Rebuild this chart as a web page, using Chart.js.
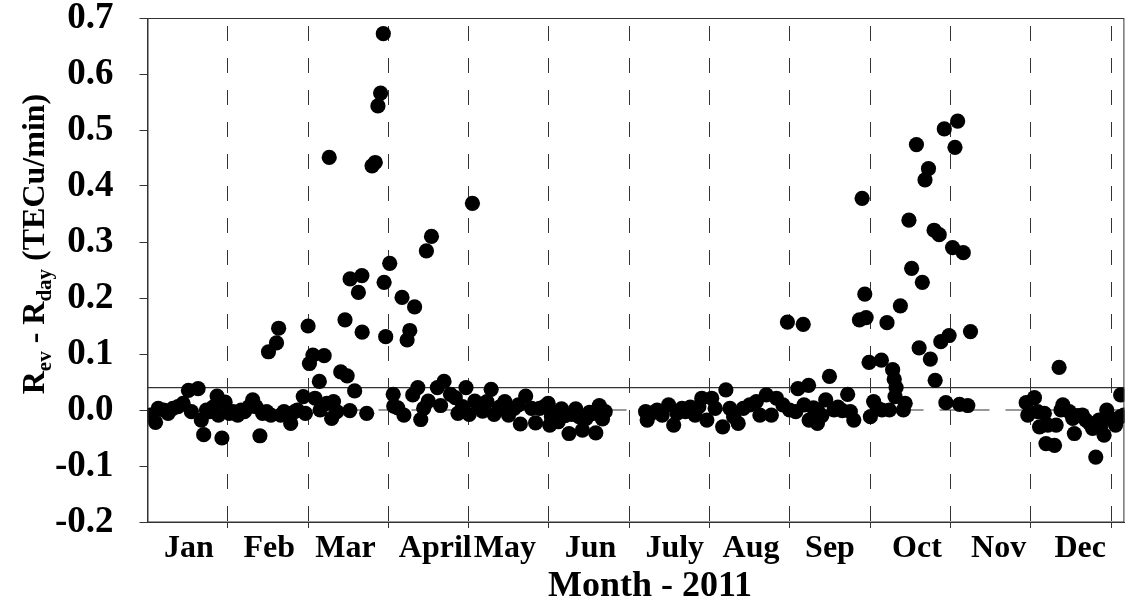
<!DOCTYPE html>
<html>
<head>
<meta charset="utf-8">
<script src="https://cdn.jsdelivr.net/npm/chart.js@4.4.1/dist/chart.umd.min.js"></script>
<style>
  html, body { margin: 0; padding: 0; background: #fff; }
  #chart { display: block; }
</style>
</head>
<body>
<canvas id="chart" width="1132" height="604"></canvas>
<script>
// day of year 2011 and the rate difference (TECu/min)
const days = [
  1, 3, 4, 6, 7.7, 9.5, 11.4, 13.3, 15.3, 16.4, 18.9, 20.1, 21, 22, 23.2, 24.5, 26, 26.5, 27.8, 29,
  30.6, 32, 33.7, 35, 36.2, 38, 39.3, 40.5, 42, 43, 44.5, 45.2, 46.1, 48.2, 49, 49.8, 51, 52.2, 53.5, 55,
  56, 58.2, 59,
  60, 60.5, 61.8, 62.6, 64.2, 64.5, 66, 67, 67.9, 68.8, 69.5, 70.7, 72.2, 73.8, 74.6, 75.6, 75.7, 77.4,
  78.8, 80.1, 80.2, 81.9, 83.9, 85.1, 86.1, 87.1, 88.1, 88.4, 89, 90.5,
  91.8, 92, 93.5, 95.1, 95.8, 97, 98, 99.1, 99.8, 101, 102.1, 103.2, 104.2, 104.9, 106.1, 108.3, 109.5, 110.8,
  113.2, 115, 116, 117.7, 119, 120.2,
  121.4, 122.3, 124, 125.2, 126.8, 128.4, 129.5, 131.5, 133.5, 134.9, 137, 138.6, 139.3, 141.3, 143.5, 145,
  146.5, 148.5, 149.7, 150.3, 150.9, 152, 153.4, 154.7, 156, 157.5, 158.5, 160, 161.2, 162.5, 163.9, 165.2, 166.6, 167.5,
  168.8, 170, 171,
  186.1, 186.7, 188.5, 190.4, 192.3, 194.7, 196.6, 197.8, 199.7, 201, 202.8, 204.6, 206, 207.1, 209, 210.8,
  212.1, 214.9, 216.1, 217.6, 219, 220.7, 222.6, 225, 227.5, 228.8, 231.2, 233.1, 235, 237.4, 239.1,
  239.9, 242.2, 243,
  245, 245.3, 247, 247.2, 248.8, 250.3, 250.3, 252, 253.4, 254.8, 256.5, 258, 259.6, 261.6, 262.6, 263.9, 266,
  267, 268, 268.5, 269.6, 270.1,
  271.3, 272.6, 274.2, 274.4, 276.3, 277.2, 278.4, 279, 279.3, 279.7, 281.3, 282.4, 283.1, 284.5, 285.5, 287.3,
  288.3, 289.5, 290.5, 291.8, 292.5, 293.9, 294.3, 295.8, 296.4, 297.7, 298.3, 299.5, 300.8, 301.7,
  302.7, 303.4, 304.8, 306.5, 307.5,
  328.3, 328.9, 331.4, 332.6, 333.3, 335.1, 335.7, 336.4, 338.9, 339.5, 340.6, 341.3, 342, 344.4, 345.7,
  346.3, 347.5, 349.3, 350.6, 352, 353.1, 354.3, 355.5, 356.1, 357.4, 358.4, 359.9, 361.7, 363.6, 363.6, 364.8
];
const rates = [
  -0.009, -0.022, 0.003, 0.000, -0.006, 0.003, 0.006, 0.012, 0.035, -0.003, 0.038, -0.018, -0.044, 0.000, -0.003, 0.005, 0.025, -0.009, -0.050, 0.014,
  -0.006, -0.003, -0.009, 0.000, -0.003, 0.006, 0.018, 0.006, -0.046, -0.006, -0.003, 0.104, -0.009, 0.120, 0.146, -0.009, -0.003, -0.006, -0.024, -0.003,
  0.000, 0.024, -0.006,
  0.150, 0.083, 0.098, 0.021, 0.051, 0.000, 0.097, 0.012, 0.451, -0.015, 0.015, -0.003, 0.068, 0.161, 0.061, -0.001, 0.234, 0.034,
  0.210, 0.240, 0.139, -0.006, 0.436, 0.442, 0.543, 0.566, 0.672, 0.228, 0.131, 0.262,
  0.028, 0.007, 0.004, 0.201, -0.009, 0.125, 0.142, 0.027, 0.184, 0.040, -0.017, 0.003, 0.284, 0.016, 0.310, 0.040, 0.008, 0.051,
  0.028, 0.022, -0.006, 0.006, 0.040, -0.008,
  0.369, 0.016, 0.004, -0.002, 0.015, 0.037, -0.008, 0.005, 0.015, -0.009, 0.003, 0.009, -0.025, 0.025, 0.003, -0.023,
  0.003, 0.007, 0.012, -0.027, -0.012, -0.005, -0.021, 0.002, -0.010, -0.042, -0.008, 0.002, -0.012, -0.036, -0.015, -0.004, -0.006, -0.041,
  0.008, -0.016, -0.003,
  -0.003, -0.018, -0.005, 0.000, -0.009, 0.009, -0.027, -0.006, 0.003, -0.003, 0.005, -0.009, 0.006, 0.021, -0.018, 0.021,
  0.003, -0.030, 0.036, 0.003, -0.012, -0.024, 0.003, 0.009, 0.015, -0.009, 0.027, -0.009, 0.021, 0.009, 0.157,
  0.000, -0.003, 0.038,
  0.153, 0.009, 0.044, -0.018, 0.004, -0.024, 0.000, -0.010, 0.018, 0.060, 0.000, 0.005, -0.001, 0.028, -0.003, -0.018, 0.161,
  0.378, 0.207, 0.165, 0.085, -0.012,
  0.015, 0.004, 0.089, 0.000, 0.156, 0.000, 0.072, 0.055, 0.024, 0.040, 0.186, 0.000, 0.012, 0.339, 0.253, 0.474,
  0.111, 0.228, 0.411, 0.431, 0.091, 0.321, 0.053, 0.313, 0.122, 0.502, 0.013, 0.133, 0.290, 0.469,
  0.516, 0.010, 0.281, 0.008, 0.140,
  0.013, -0.009, 0.022, -0.003, -0.030, -0.006, -0.060, -0.027, -0.063, -0.027, 0.076, 0.000, 0.009, -0.003, -0.015,
  -0.042, -0.010, -0.009, -0.018, -0.024, -0.033, -0.084, -0.018, -0.030, -0.045, 0.000, -0.015, -0.027, -0.012, 0.027, -0.009
];

const monthNames = ['Jan', 'Feb', 'Mar', 'April', 'May', 'Jun', 'July', 'Aug', 'Sep', 'Oct', 'Nov', 'Dec'];
const monthLabelDays = [15.5, 45.5, 74, 107.5, 133.5, 165.5, 197, 225.5, 255, 287.5, 318, 348.5];
const monthEdges = [30, 60, 90, 120, 150, 180, 210, 240, 270, 300, 330, 360];
const thresholdLevel = 0.04;

const serif = '"Liberation Serif", "Times New Roman", Times, serif';
const lineColor = '#333';

// plot frame, x axis title and y axis title with subscripts
const framePlugin = {
    id: 'frame',
    afterDraw(chart) {
        const { ctx, chartArea: a } = chart;
        ctx.save();
        ctx.strokeStyle = lineColor;
        ctx.lineWidth = 1;
        ctx.strokeRect(a.left + 0.5, a.top + 0.5, a.right - a.left - 1, a.bottom - a.top - 0.5);

        ctx.fillStyle = '#000';
        ctx.font = 'bold 36px ' + serif;
        ctx.textAlign = 'center';
        ctx.textBaseline = 'alphabetic';
        ctx.fillText('Month - 2011', 650, 596);

        const big = 'bold 32px ' + serif;
        const small = 'bold 21px ' + serif;
        const parts = [
            ['R', big, 0], ['ev', small, 7], [' - R', big, 0], ['day', small, 7], [' (TECu/min)', big, 0]
        ];
        ctx.textAlign = 'left';
        let total = 0;
        parts.forEach(p => { ctx.font = p[1]; total += ctx.measureText(p[0]).width; });
        ctx.translate(44, 244);
        ctx.rotate(-Math.PI / 2);
        let x = -total / 2;
        parts.forEach(p => {
            ctx.font = p[1];
            ctx.fillText(p[0], x, p[2]);
            x += ctx.measureText(p[0]).width;
        });
        ctx.restore();
    }
};

const ctx = document.getElementById('chart');

new Chart(ctx, {
    type: 'scatter',
    data: {
        datasets: [
            {
                label: 'Rev - Rday',
                data: days.map((d, i) => ({ x: d, y: rates[i] })),
                backgroundColor: '#000',
                borderWidth: 0,
                pointRadius: 7.6,
                order: 0
            },
            {
                type: 'line',
                label: 'threshold',
                data: [{ x: 0, y: thresholdLevel }, { x: 365, y: thresholdLevel }],
                borderColor: lineColor,
                borderWidth: 1.2,
                pointRadius: 0,
                order: 1
            },
            {
                type: 'line',
                label: 'zero',
                data: [{ x: 0, y: 0 }, { x: 365, y: 0 }],
                borderColor: lineColor,
                borderWidth: 1.2,
                borderDash: [17, 16],
                pointRadius: 0,
                order: 2
            }
        ]
    },
    options: {
        responsive: false,
        animation: false,
        layout: { padding: { top: 18, right: 1, left: 0, bottom: 0 } },
        plugins: {
            legend: { display: false },
            tooltip: { enabled: false }
        },
        scales: {
            x: {
                type: 'linear',
                min: 0,
                max: 365,
                afterBuildTicks(scale) {
                    scale.ticks = monthEdges.concat(monthLabelDays).map(v => ({ value: v }));
                },
                ticks: {
                    autoSkip: false,
                    maxRotation: 0,
                    padding: 2,
                    color: '#000',
                    font: { family: serif, weight: 'bold', size: 32 },
                    callback: v => {
                        const i = monthLabelDays.indexOf(v);
                        return i >= 0 ? monthNames[i] : '';
                    }
                },
                grid: {
                    color: c => (c.tick && monthEdges.includes(c.tick.value) ? lineColor : 'transparent'),
                    tickColor: c => (c.tick && monthEdges.includes(c.tick.value) ? lineColor : 'transparent'),
                    tickLength: 6,
                    lineWidth: 1
                },
                border: { color: lineColor, dash: [15, 17], dashOffset: 24 },
                afterFit(scale) {
                    scale.height = 82;
                    scale.paddingLeft = 0;
                    scale.paddingRight = 0;
                }
            },
            y: {
                min: -0.2,
                max: 0.7,
                ticks: {
                    stepSize: 0.05,
                    maxTicksLimit: 20,
                    padding: 26,
                    color: '#000',
                    font: { family: serif, weight: 'bold', size: 37 },
                    callback: v => (Math.round(v * 100) % 10 === 0 ? (Math.round(v * 10) / 10 + 0).toFixed(1) : '')
                },
                grid: { drawOnChartArea: false, tickLength: 8, color: lineColor },
                border: { color: lineColor },
                afterFit(scale) {
                    scale.width = 147.5;
                    scale.paddingTop = 0;
                    scale.paddingBottom = 0;
                }
            }
        }
    },
    plugins: [framePlugin]
});
</script>
</body>
</html>
